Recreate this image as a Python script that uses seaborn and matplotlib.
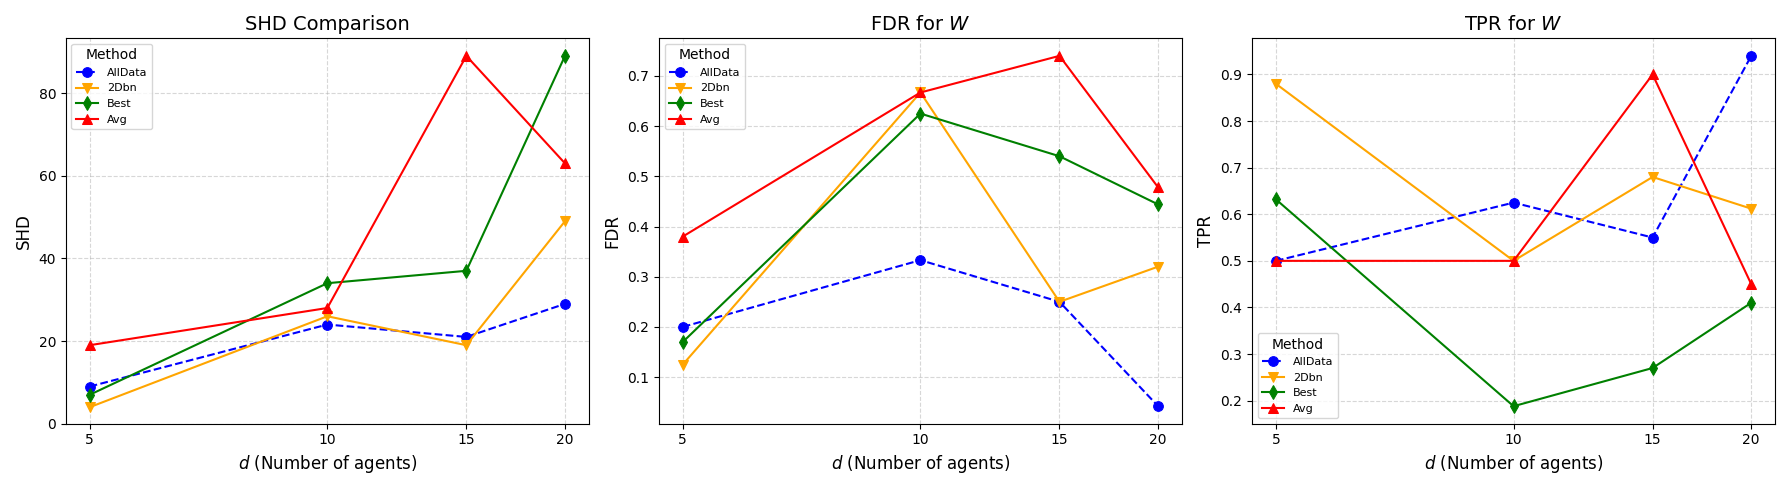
import numpy as np
import pandas as pd
import matplotlib
matplotlib.use("Agg")
import matplotlib.pyplot as plt
import matplotlib.ticker as mticker
import seaborn as sns

d_values = [5, 10, 15, 20]
methods = ["AllData", "2Dbn", "Best", "Avg"]

shd_alldata = [9, 24, 21, 29]
shd_2dbn = [4, 26, 19, 49]
shd_best = [7, 34, 37, 89]
shd_avg = [19, 28, 89, 63]

fdr_alldata = [0.2, 0.333, 0.25, 0.042]
fdr_2dbn = [0.125, 0.667, 0.25, 0.32]
fdr_best = [0.17, 0.625, 0.54, 0.444]
fdr_avg = [0.38, 0.667, 0.74, 0.478]

tpr_alldata = [0.5, 0.625, 0.55, 0.94]
tpr_2dbn = [0.88, 0.5, 0.68, 0.612]
tpr_best = [0.632, 0.188, 0.27, 0.41]
tpr_avg = [0.5, 0.5, 0.9, 0.45]

colors = {"AllData": "blue", "2Dbn": "orange", "Best": "green", "Avg": "red"}
markers = {"AllData": "o", "2Dbn": "v", "Best": "d", "Avg": "^"}
dashed = {"AllData": True, "2Dbn": False, "Best": False, "Avg": False}

rows = []
for metric, series in [("SHD", [shd_alldata, shd_2dbn, shd_best, shd_avg]),
                       ("FDR", [fdr_alldata, fdr_2dbn, fdr_best, fdr_avg]),
                       ("TPR", [tpr_alldata, tpr_2dbn, tpr_best, tpr_avg])]:
    for m, vals in zip(methods, series):
        for d, v in zip(d_values, vals):
            rows.append({"metric": metric, "Method": m, "d": d, "value": v})
df = pd.DataFrame(rows)

fig, axes = plt.subplots(1, 3, figsize=(17.9, 4.9), dpi=100)
titles = {"SHD": "SHD Comparison", "FDR": "FDR for $W$", "TPR": "TPR for $W$"}
legend_loc = {"SHD": "upper left", "FDR": "upper left", "TPR": "lower left"}

for ax, metric in zip(axes, ["SHD", "FDR", "TPR"]):
    sub = df[df["metric"] == metric]
    for m in methods:
        part = sub[sub["Method"] == m]
        sns.lineplot(data=part, x="d", y="value", ax=ax, color=colors[m],
                     marker=markers[m], markersize=7, markeredgecolor=colors[m],
                     linestyle="--" if dashed[m] else "-", linewidth=1.5, label=m)
    ax.set_xscale("log")
    ax.set_xticks(d_values)
    ax.xaxis.set_major_formatter(mticker.ScalarFormatter())
    ax.xaxis.set_minor_locator(mticker.NullLocator())
    ax.set_title(titles[metric], fontsize=14)
    ax.set_xlabel("$d$ (Number of agents)", fontsize=12)
    ax.set_ylabel(metric, fontsize=12)
    ax.grid(True, linestyle="--", alpha=0.5)
    ax.legend(title="Method", fontsize=8, title_fontsize=10, loc=legend_loc[metric])

axes[0].set_ylim(0, None)

plt.tight_layout()
plt.savefig("out.png", dpi=100)
